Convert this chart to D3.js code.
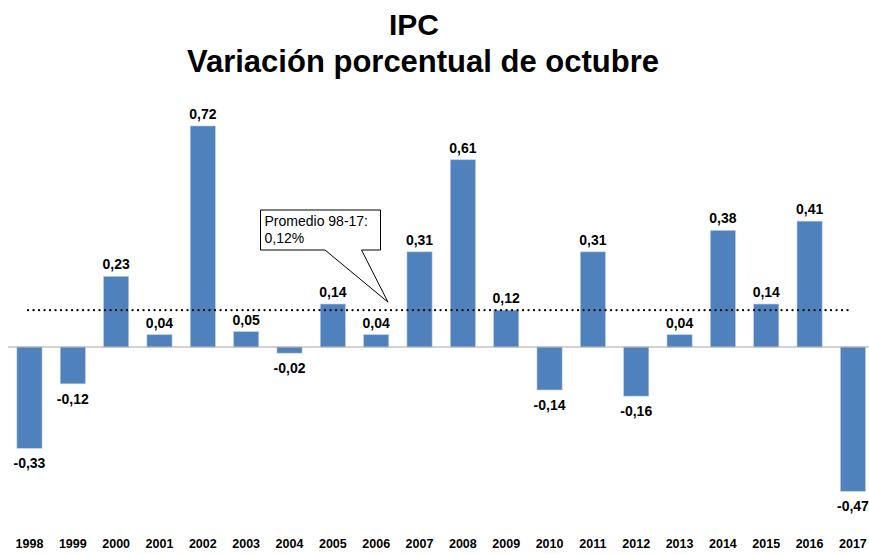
<!DOCTYPE html>
<html lang="es">
<head>
<meta charset="UTF-8">
<title>IPC octubre</title>
<script src="https://cdn.jsdelivr.net/npm/d3@7"></script>
<style>
  body { margin: 0; background: #fff; }
</style>
</head>
<body>
<div id="chart"></div>
<script>
  const years = ['1998','1999','2000','2001','2002','2003','2004','2005','2006','2007',
                 '2008','2009','2010','2011','2012','2013','2014','2015','2016','2017']
  const values = [-0.33, -0.12, 0.23, 0.04, 0.72, 0.05, -0.02, 0.14, 0.04, 0.31,
                  0.61, 0.12, -0.14, 0.31, -0.16, 0.04, 0.38, 0.14, 0.41, -0.47]
  const average = 0.12
  const titleLines = ['IPC', 'Variación porcentual de octubre']
  const calloutLines = ['Promedio 98-17:', '0,12%']

  const width = 869
  const height = 554
  const fmt = v => v.toFixed(2).replace('.', ',')

  const svg = d3.select('#chart').append('svg')
    .attr('width', width)
    .attr('height', height)

  const x = d3.scaleBand().domain(years).range([7.8, 874.6]).paddingInner(0.42).paddingOuter(0.21)
  const y = d3.scaleLinear().domain([0, 0.72]).range([347, 126])

  // title
  svg.selectAll('.title').data(titleLines).enter().append('text')
    .attr('x', (d, i) => i === 0 ? 414 : 423)
    .attr('y', (d, i) => 35 + i * 37)
    .attr('text-anchor', 'middle')
    .attr('font-family', 'Liberation Sans, Arial, sans-serif')
    .attr('font-weight', 'bold')
    .attr('font-size', (d, i) => i === 0 ? '30px' : '31px')
    .text(d => d)

  // bars
  svg.selectAll('.bar').data(values).enter().append('rect')
    .attr('class', 'bar')
    .attr('x', (d, i) => x(years[i]))
    .attr('width', x.bandwidth())
    .attr('y', d => y(Math.max(0, d)))
    .attr('height', d => Math.abs(y(d) - y(0)))
    .attr('fill', '#4F81BD')
    .attr('stroke', '#B9CDE5')
    .attr('stroke-width', 0.6)

  // zero line
  svg.append('line')
    .attr('x1', 8).attr('x2', width)
    .attr('y1', y(0)).attr('y2', y(0))
    .attr('stroke', '#A6A6A6')
    .attr('stroke-width', 1.2)

  // average dotted line
  svg.append('line')
    .attr('x1', 28).attr('x2', 850)
    .attr('y1', y(average)).attr('y2', y(average))
    .attr('stroke', '#000')
    .attr('stroke-width', 2.2)
    .attr('stroke-linecap', 'round')
    .attr('stroke-dasharray', '0.1 5.4')

  // value labels
  svg.selectAll('.val').data(values).enter().append('text')
    .attr('x', (d, i) => x(years[i]) + x.bandwidth() / 2)
    .attr('y', d => d >= 0 ? y(d) - 7 : y(d) + 20)
    .attr('text-anchor', 'middle')
    .attr('font-family', 'Liberation Sans, Arial, sans-serif')
    .attr('font-weight', 'bold')
    .attr('font-size', '14px')
    .attr('fill', '#000')
    .text(d => fmt(d))

  // year labels
  svg.selectAll('.year').data(years).enter().append('text')
    .attr('x', d => x(d) + x.bandwidth() / 2)
    .attr('y', 548)
    .attr('text-anchor', 'middle')
    .attr('font-family', 'Liberation Sans, Arial, sans-serif')
    .attr('font-weight', 'bold')
    .attr('font-size', '12.5px')
    .text(d => d)

  // callout
  const box = { x: 260.5, y: 210, w: 120, h: 40 }
  const tip = [388, y(average) - 8]
  svg.append('path')
    .attr('d', `M${box.x},${box.y} H${box.x + box.w} V${box.y + box.h} H361.5 L${tip[0]},${tip[1]} L325,${box.y + box.h} H${box.x} Z`)
    .attr('fill', '#fff')
    .attr('stroke', '#000')
    .attr('stroke-width', 1)

  svg.selectAll('.call').data(calloutLines).enter().append('text')
    .attr('x', box.x + 4)
    .attr('y', (d, i) => box.y + 16 + i * 17)
    .attr('font-family', 'Liberation Sans, Arial, sans-serif')
    .attr('font-size', '14px')
    .text(d => d)
</script>
</body>
</html>
